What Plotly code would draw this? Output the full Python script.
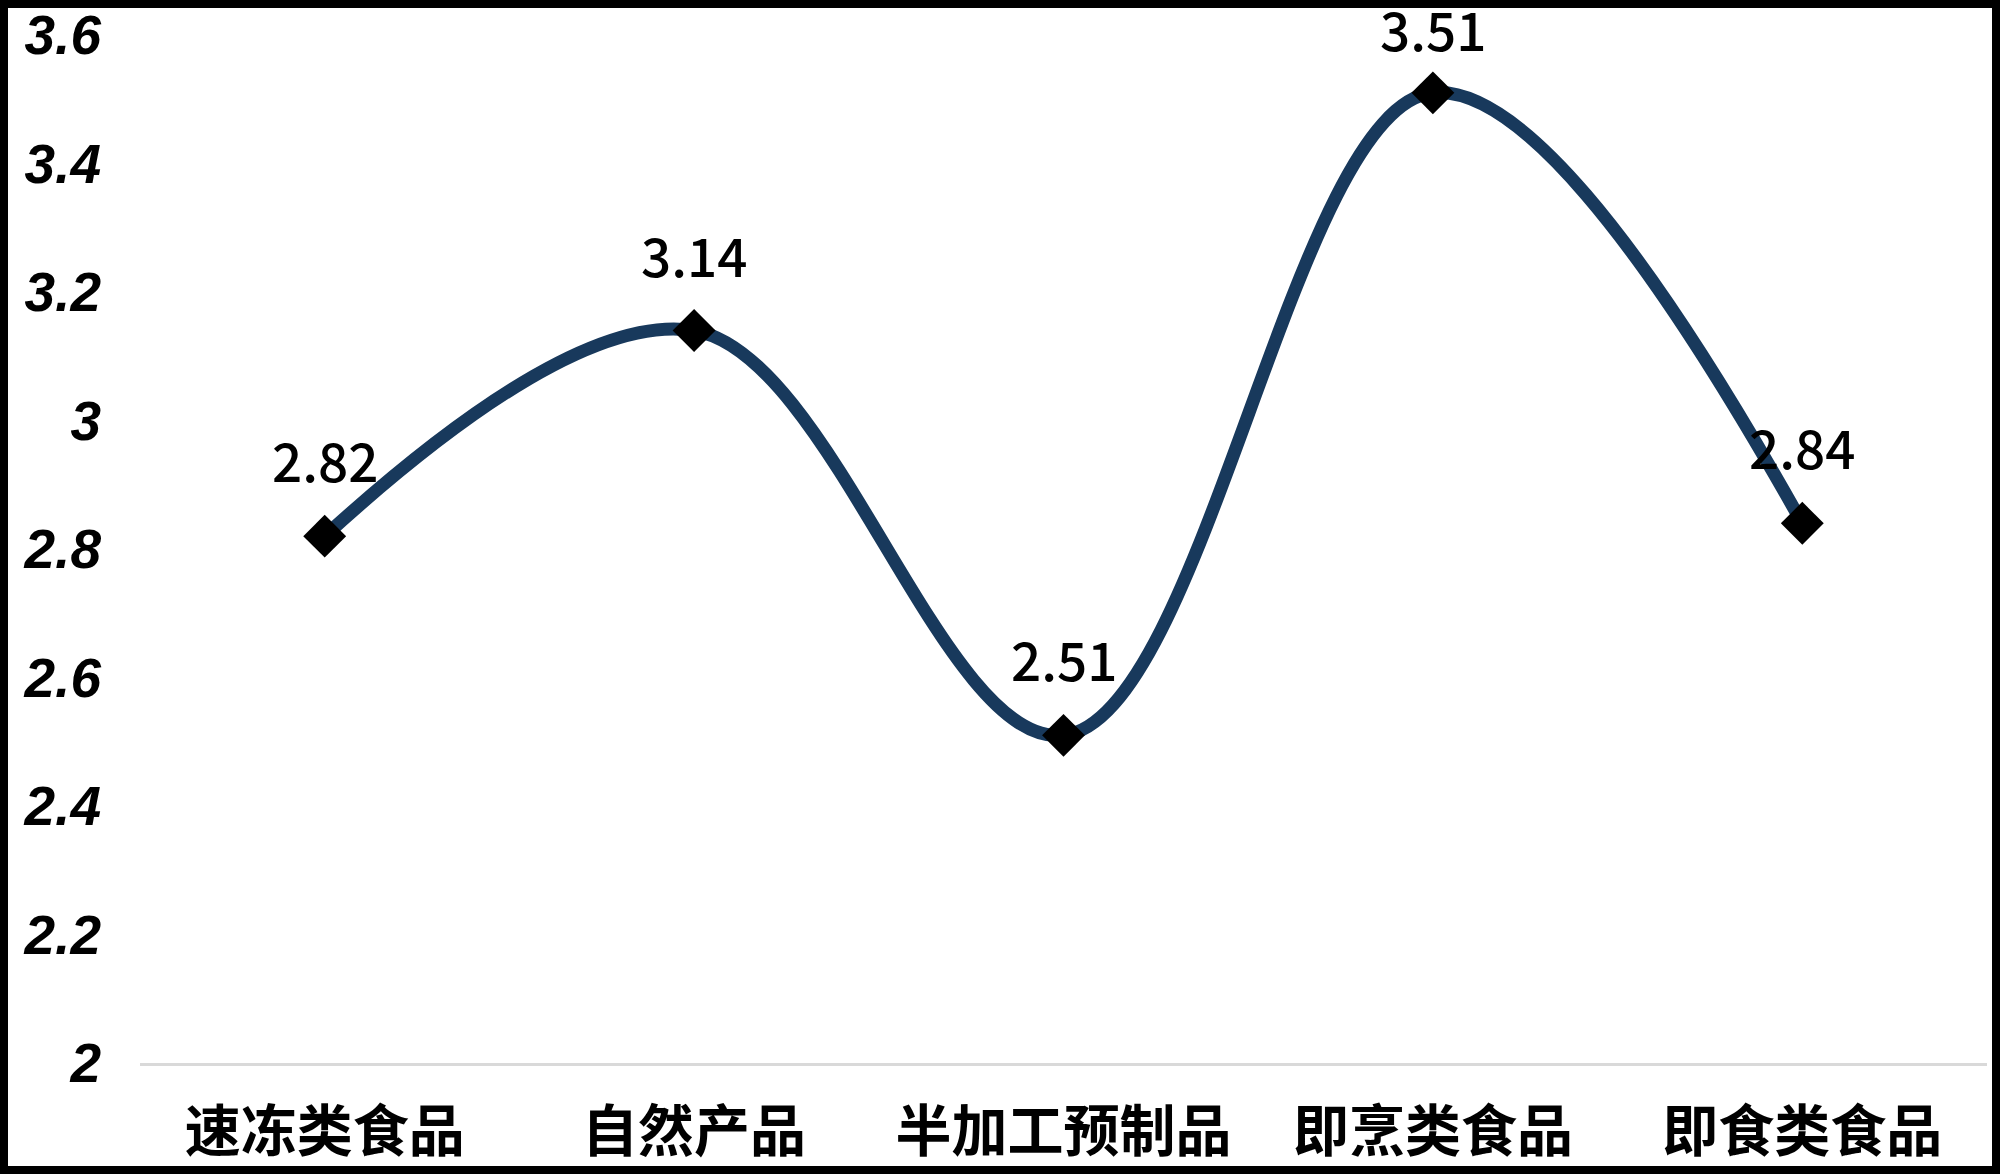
import plotly.graph_objects as go

categories = ["速冻类食品", "自然产品", "半加工预制品", "即烹类食品", "即食类食品"]
values = [2.82, 3.14, 2.51, 3.51, 2.84]
y_ticks = [2, 2.2, 2.4, 2.6, 2.8, 3, 3.2, 3.4, 3.6]

# the page body keeps its 8px margin; painted black it becomes the frame
W, H = 1984, 1158
M_L, M_R, M_T, M_B = 132, 5, 27, 103
Y_MIN, Y_MAX = 2, 3.6

plot_h = H - M_T - M_B
px_per_unit = plot_h / (Y_MAX - Y_MIN)

fig = go.Figure()
fig.add_trace(go.Scatter(
    x=categories, y=values, mode="lines+markers",
    line=dict(color="#18395c", width=13, shape="spline", smoothing=1.05),
    marker=dict(symbol="diamond", size=33, color="black"),
    cliponaxis=False, hoverinfo="skip",
))

# data labels above points, kept inside the frame near the top
for cat, v in zip(categories, values):
    room = (Y_MAX - v) * px_per_unit + M_T - 20
    fig.add_annotation(
        x=cat, y=v, text=f"{v:.2f}", showarrow=False,
        yshift=min(77, room),
        font=dict(family="Noto Sans CJK SC", size=53, color="black", weight=500),
    )

fig.update_xaxes(
    range=[-0.5, 4.5], automargin=False,
    showgrid=False, zeroline=False,
    showline=True, linecolor="#d9d9d9", linewidth=3,
    tickfont=dict(family="Noto Sans CJK SC", size=56, color="black", weight="bold"),
    ticklabelstandoff=18,
)
fig.update_yaxes(
    range=[Y_MIN, Y_MAX], tickvals=y_ticks, automargin=False,
    showgrid=False, zeroline=False, showline=False,
    tickfont=dict(family="Liberation Sans", size=55, color="black",
                  weight="bold", style="italic"),
    ticklabelstandoff=38, ticklabeloverflow="allow",
)

fig.update_layout(
    width=W, height=H,
    margin=dict(l=M_L, r=M_R, t=M_T, b=M_B),
    plot_bgcolor="white", paper_bgcolor="white",
    showlegend=False,
)

fig.write_html("out.html",
               post_script="document.body.style.background = 'black';")
